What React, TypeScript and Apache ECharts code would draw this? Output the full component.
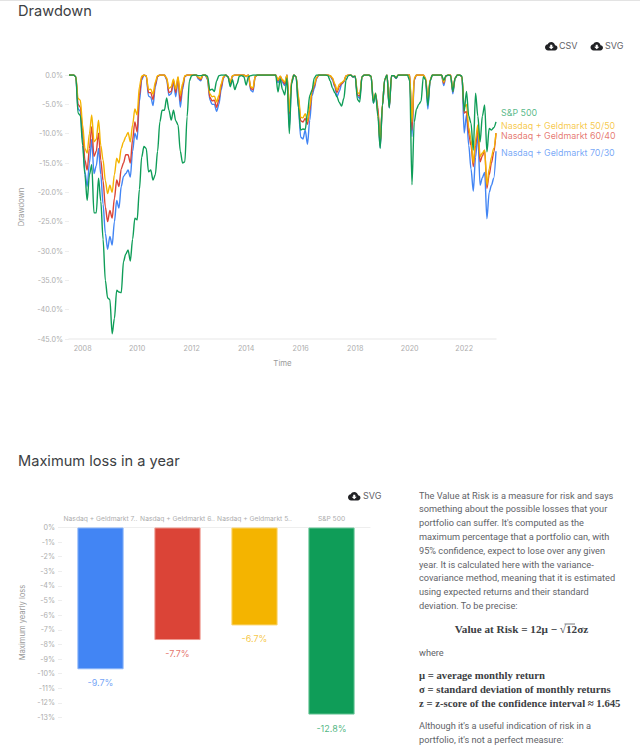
import React, { useEffect, useRef } from "react";
import * as echarts from "echarts";

const FONT = "Inter";
const BODY_FONT = "Roboto";

const sp500 = [
  0, 0, 0, -0.3, -6.5, -6.9,
  -12, -17, -21.4, -17, -15.3, -23.5, -23.5, -17.6, -21.5, -28, -35, -38,
  -38.3, -44.1, -41.5, -36.7, -37, -37.1, -31.8, -30.5, -29.8, -31.7, -28, -24.4,
  -24.7, -19.5, -14, -12.2, -12.5, -16.5, -16.2, -17.9, -17, -13, -8, -6,
  -6, -3.9, -6, -7.7, -6, -7.8, -8.5, -13, -15, -14.8, -7.1, -1,
  -0.1, 0, 0, -0.1, -0.1, 0, 0, -0.2, -2.6, -2.4, -2.8, -1,
  -0.1, 0, 0, 0, -0.3, -2, -0.8, -2.5, -1.5, -0.2, -0.1, -0.3,
  -1.7, -0.3, -0.1, 0, 0, 0, 0, 0, 0, 0, 0, 0,
  0, 0, -2.9, -0.7, -2.5, -3.4, -0.5, -10, -1.5, 0, -0.3, -5.5,
  -9.4, -9.2, -9.3, -6.5, -3.5, -2.6, -0.5, 0, 0, 0, 0, 0,
  -0.1, -1, -2.2, -3, -3.7, -4.7, -5.3, -4, -0.8, -0.1, 0, -0.3,
  -0.2, -4.2, -4.6, -0.3, 0, 0, 0, -0.2, -4.8, -3.1, -7, -12.5,
  -5.2, -0.8, 0, -5.6, -0.1, -0.1, -0.5, 0, 0, 0, 0, 0,
  -1, -18.7, -8, -5.8, -5, -4.5, -0.3, -0.8, -5.2, -1, 0, 0,
  0, 0, 0, -0.9, -0.1, 0, -0.1, -2.8, -0.5, 0, 0, -0.2,
  -6.2, -2.8, -7, -8.2, -12.8, -3.1, -7, -11.4, -7, -5.1, -13.1, -9.1,
  -9.4, -9, -8,
];

const mix5050 = [
  0, 0, 0, -0.3, -4, -4.3,
  -8.5, -12.5, -13.3, -10, -6.8, -11.4, -11, -7.7, -12, -14.5, -18, -20.2,
  -18.8, -20, -17, -14.2, -15, -12.5, -11.4, -10.5, -9.8, -11.4, -8.5, -5.8,
  -6.8, -2, -0.2, 0, -0.1, -2.5, -2.4, -3.3, -1.2, -0.1, 0, 0,
  0, -0.5, -2.3, -2, -0.7, -2.4, -0.3, -3.4, -1.5, -0.1, 0, 0,
  0, 0, 0, -0.4, -0.6, 0, 0, -0.5, -3.2, -3.7, -3.6, -4.6,
  -3.5, -1.5, -0.3, 0, -0.3, -1.2, -0.1, 0, 0, 0, 0, 0,
  -0.2, 0, -2, -2.2, -0.2, 0, 0, 0, 0, 0, 0, 0,
  0, 0, -0.8, -0.2, -0.8, -1.2, 0, -6.2, -1, 0, -0.3, -3.5,
  -7.2, -7.3, -6.6, -7.9, -5.4, -2.5, -1.6, -0.4, 0, 0, 0, 0,
  0, -0.1, -0.5, -1.5, -2.6, -1.6, -1.3, -1, -0.1, 0, 0, -0.3,
  -0.2, -3, -3.2, -0.3, 0, 0, 0, -0.2, -4.3, -3.1, -6.5, -11.5,
  -5, -0.8, 0, -5.2, -0.1, -0.1, -0.4, 0, 0, 0, 0, 0,
  0, -8, -0.5, 0, 0, 0, 0, -0.5, -4, -0.8, 0, 0,
  0, 0, 0, -1.2, -0.1, 0, 0, -2.6, -0.5, 0, 0, -0.3,
  -5.5, -5, -9, -11, -15, -11, -8.5, -13.9, -13.3, -12.8, -18.8, -16,
  -14, -12.5, -9.9,
];

const mix6040 = [
  0, 0, 0, -0.3, -5, -5.5,
  -9.5, -14.5, -16.2, -12.5, -8.8, -13.9, -13, -9.9, -14.5, -18, -22.5, -25,
  -23.1, -24.4, -21, -17.9, -19, -16, -15, -13.6, -13.6, -15, -11, -8,
  -9.7, -3.5, -0.5, 0, -0.1, -3, -3, -4.2, -1.6, -0.2, 0, 0,
  0, -0.6, -3, -2.8, -0.9, -3, -0.4, -4.5, -2, -0.2, 0, 0,
  0, 0, 0, -0.5, -0.8, 0, 0, -0.6, -3.8, -4.4, -4.3, -5.5,
  -4.2, -2, -0.4, 0, -0.3, -1.4, -0.1, 0, 0, 0, 0, 0,
  -0.2, 0, -2.3, -2.5, -0.2, 0, 0, 0, 0, 0, 0, 0,
  0, 0, -1, -0.2, -1, -1.5, 0, -6.6, -1.1, 0, -0.3, -4,
  -7.8, -8, -7.4, -8.4, -6, -2.9, -1.9, -0.5, 0, 0, 0, 0,
  0, -0.1, -0.6, -1.8, -3, -2, -1.5, -1.1, -0.1, 0, 0, -0.3,
  -0.2, -3.4, -3.6, -0.3, 0, 0, 0, -0.2, -4.5, -3.3, -5.5, -12,
  -5.1, -0.8, 0, -5.4, -0.1, -0.1, -0.5, 0, 0, 0, 0, 0,
  0, -9.4, -0.7, 0, 0, 0, 0, -0.6, -4.5, -0.9, 0, 0,
  0, 0, 0, -1.4, -0.1, 0, 0, -2.8, -0.5, 0, 0, -0.3,
  -6.5, -6.2, -10, -12, -15.6, -12, -9.1, -14.8, -13.8, -12.8, -19.3, -17,
  -15, -13.2, -9.9,
];

const mix7030 = [
  0, 0, 0, -0.3, -5.8, -6.2,
  -11, -16.5, -19, -15, -11, -16.8, -15.5, -12.5, -17, -22, -27, -29.7,
  -27.5, -29, -25, -21.4, -22.7, -19, -17.3, -16.8, -16.2, -17.4, -13, -9.9,
  -11, -4.5, -0.9, 0, -0.2, -3.6, -3.8, -5.2, -2, -0.3, 0, 0,
  0, -0.8, -3.5, -3.2, -1.2, -3.7, -0.8, -5.5, -2.5, -0.3, 0, 0,
  0, 0, 0, -0.7, -1, 0, 0, -0.8, -4.2, -5, -5, -6.2,
  -5, -2.5, -0.5, 0, -0.4, -1.6, -0.2, 0, 0, 0, 0, 0,
  -0.3, 0, -2.6, -2.9, -0.3, 0, 0, 0, 0, 0, 0, 0,
  0, 0, -1.3, -0.3, -1.3, -1.8, 0, -9, -1.3, 0, -0.4, -5.5,
  -10.6, -10.9, -9.4, -11.8, -7.7, -3.5, -2.3, -0.6, 0, 0, 0, 0,
  0, -0.2, -0.8, -2, -3.7, -2.8, -1.6, -1.2, -0.2, 0, 0, -0.4,
  -0.3, -3.6, -4, -0.3, 0, 0, 0, -0.2, -4.8, -3.5, -6, -12.4,
  -5.2, -0.8, 0, -5.6, -0.1, -0.2, -0.6, 0, 0, 0, 0, 0,
  0, -10.5, -0.9, 0, 0, 0, 0, -0.8, -5.8, -1, 0, 0,
  0, 0, 0, -1.8, -0.2, 0, 0, -3.2, -0.6, 0, 0, -0.3,
  -9.9, -6.8, -12, -16, -19.8, -14, -10.2, -18.8, -17.5, -16.6, -24.5, -20,
  -18.8, -17.6, -13,
];

const months: string[] = [];
for (let i = 0; i < sp500.length; i++) {
  const m = i + 6;
  months.push(`${2007 + Math.floor(m / 12)}-${String((m % 12) + 1).padStart(2, "0")}`);
}

const barCategories = [
  "Nasdaq + Geldmarkt 70/30",
  "Nasdaq + Geldmarkt 60/40",
  "Nasdaq + Geldmarkt 50/50",
  "S&P 500",
];
const maxLoss = [-9.7, -7.7, -6.7, -12.8];

const BLUE = "#4285F4";
const RED = "#DB4437";
const YELLOW = "#F4B400";
const GREEN = "#0F9D58";
const barColors = [BLUE, RED, YELLOW, GREEN];
const barEdges = ["#8AB4F8", "#EE9A90", "#FAD570", "#6CC79A"];

const paragraph1 = [
  "The Value at Risk is a measure for risk and says",
  "something about the possible losses that your",
  "portfolio can suffer. It's computed as the",
  "maximum percentage that a portfolio can, with",
  "95% confidence, expect to lose over any given",
  "year. It is calculated here with the variance-",
  "covariance method, meaning that it is estimated",
  "using expected returns and their standard",
  "deviation. To be precise:",
];
const paragraph2 = [
  "Although it's a useful indication of risk in a",
  "portfolio, it's not a perfect measure:",
];
const definitions = [
  "μ = average monthly return",
  "σ = standard deviation of monthly returns",
  "z = z-score of the confidence interval ≈ 1.645",
];

const CLOUD =
  "M19.35 10.04C18.67 6.59 15.64 4 12 4 9.11 4 6.6 5.64 5.35 8.04 2.34 8.36 0 10.91 0 14c0 3.31 2.69 6 6 6h13c2.76 0 5-2.24 5-5 0-2.64-2.05-4.78-4.65-4.96zM17 13l-5 5-5-5h3V9h4v4h3z";
echarts.graphic.registerShape("cloudIcon", echarts.graphic.extendPath(CLOUD, {}) as any);

function text(x: number, y: number, t: string, style: any = {}) {
  return {
    type: "text",
    x,
    y,
    silent: true,
    style: {
      text: t,
      fontFamily: BODY_FONT,
      fontSize: 9.2,
      fill: "#5f6368",
      textVerticalAlign: "middle",
      ...style,
    },
  };
}

function cloud(x: number, y: number) {
  return {
    type: "cloudIcon",
    x,
    y,
    scaleX: 0.52,
    scaleY: 0.52,
    silent: true,
    style: { fill: "#202124" },
  };
}

function lineSeries(name: string, data: number[], color: string, offsetY: number) {
  return {
    type: "line",
    name,
    data,
    xAxisIndex: 0,
    yAxisIndex: 0,
    smooth: 0.3,
    smoothMonotone: "x",
    showSymbol: false,
    lineStyle: { color, width: 1.4 },
    itemStyle: { color },
    endLabel: {
      show: true,
      formatter: "{a}",
      color,
      opacity: 0.72,
      fontFamily: FONT,
      fontSize: 8.9,
      distance: 5,
      offset: [0, offsetY],
    },
  };
}

export default function App() {
  const ref = useRef<HTMLDivElement>(null);
  useEffect(() => {
    const chart = echarts.init(ref.current!, undefined, { renderer: "svg" });
    const axisGray = "#adadad";
    const nameGray = "#9a9a9a";
    chart.setOption({
      animation: false,
      backgroundColor: "#fff",
      grid: [
        { left: 69, right: 144, top: 75, bottom: 411 },
        { left: 62, right: 270, top: 527.5, bottom: 32.5 },
      ],
      xAxis: [
        {
          type: "category",
          gridIndex: 0,
          data: months,
          boundaryGap: false,
          name: "Time",
          nameLocation: "middle",
          nameGap: 20,
          nameTextStyle: { color: nameGray, fontFamily: FONT, fontSize: 7.8 },
          axisLine: { onZero: false, lineStyle: { color: "#f0f0f0", width: 1.5 } },
          axisTick: { show: false },
          splitLine: { show: false },
          axisLabel: {
            color: axisGray,
            fontFamily: FONT,
            fontSize: 7.2,
            margin: 6,
            interval: (_: number, v: string) =>
              v.endsWith("-01") && Number(v.slice(0, 4)) % 2 === 0,
            formatter: (v: string) => v.slice(0, 4),
          },
        },
        {
          type: "category",
          gridIndex: 1,
          position: "top",
          data: barCategories,
          axisLine: { lineStyle: { color: "#eeeeee" } },
          axisTick: { show: false },
          axisLabel: {
            color: axisGray,
            fontFamily: FONT,
            fontSize: 6.7,
            margin: 5,
            width: 77,
            overflow: "truncate",
            ellipsis: "..",
            interval: 0,
          },
        },
      ],
      yAxis: [
        {
          type: "value",
          gridIndex: 0,
          min: -45,
          max: 0,
          interval: 5,
          name: "Drawdown",
          nameLocation: "middle",
          nameGap: 44,
          nameTextStyle: { color: nameGray, fontFamily: FONT, fontSize: 7.6 },
          axisLine: { show: false },
          axisTick: { show: true, length: 4, lineStyle: { color: "#eeeeee" } },
          splitLine: { show: false },
          axisLabel: {
            color: axisGray,
            fontFamily: FONT,
            fontSize: 7.2,
            margin: 6,
            formatter: (v: number) => `${v.toFixed(1)}%`,
          },
        },
        {
          type: "value",
          gridIndex: 1,
          min: -13,
          max: 0,
          interval: 1,
          name: "Maximum yearly loss",
          nameLocation: "middle",
          nameGap: 36,
          nameTextStyle: { color: nameGray, fontFamily: FONT, fontSize: 7.6 },
          axisLine: { show: false },
          axisTick: { show: true, length: 4, lineStyle: { color: "#eeeeee" } },
          splitLine: { show: false },
          axisLabel: {
            color: axisGray,
            fontFamily: FONT,
            fontSize: 7.2,
            margin: 7,
            formatter: (v: number) => `${v}%`,
          },
        },
      ],
      series: [
        lineSeries("Nasdaq + Geldmarkt 70/30", mix7030, BLUE, 1),
        lineSeries("Nasdaq + Geldmarkt 60/40", mix6040, RED, 2),
        lineSeries("Nasdaq + Geldmarkt 50/50", mix5050, YELLOW, -8),
        lineSeries("S&P 500", sp500, GREEN, -9),
        {
          type: "bar",
          xAxisIndex: 1,
          yAxisIndex: 1,
          barWidth: "60%",
          data: maxLoss.map((v, i) => ({
            value: v,
            itemStyle: { color: barColors[i], borderColor: barEdges[i], borderWidth: 1 },
            label: { color: barColors[i] },
          })),
          label: {
            show: true,
            position: "bottom",
            distance: 9,
            fontFamily: FONT,
            fontSize: 9,
            opacity: 0.75,
            formatter: (p: any) => `${p.value}%`,
          },
        },
      ],
      graphic: [
        { type: "rect", x: 0, y: 0, shape: { width: 640, height: 1 }, style: { fill: "#e3e3e3" }, silent: true },
        text(18, 11, "Drawdown", { fontFamily: FONT, fontSize: 14.6, fill: "#3c4043" }),
        text(18, 461, "Maximum loss in a year", { fontFamily: FONT, fontSize: 14.6, fill: "#3c4043" }),
        cloud(545, 40),
        text(559, 45.5, "CSV", { fontFamily: FONT, fontSize: 9 }),
        cloud(590.5, 40),
        text(605, 45.5, "SVG", { fontFamily: FONT, fontSize: 9 }),
        cloud(348, 490),
        text(363, 495.5, "SVG", { fontFamily: FONT, fontSize: 9 }),
        ...paragraph1.map((line, i) => text(419, 495 + i * 13.8, line)),
        text(521.5, 629, "Value at Risk = 12μ − √12σz", {
          fontFamily: "Liberation Serif",
          fontWeight: "bold",
          fontSize: 11.2,
          fill: "#3c4043",
          textAlign: "center",
        }),
        {
          type: "line",
          silent: true,
          shape: { x1: 564.5, y1: 624, x2: 575, y2: 624 },
          style: { stroke: "#3c4043", lineWidth: 0.7 },
        },
        text(419, 652.7, "where"),
        ...definitions.map((line, i) =>
          text(419, 675 + i * 14, line, {
            fontFamily: "Liberation Serif",
            fontWeight: "bold",
            fontSize: 10.7,
            fill: "#3c4043",
          })
        ),
        ...paragraph2.map((line, i) => text(419, 725.8 + i * 14, line)),
      ],
    });
    return () => chart.dispose();
  }, []);
  return <div ref={ref} style={{ position: "absolute", left: 0, top: 0, width: 640, height: 750 }} />;
}
